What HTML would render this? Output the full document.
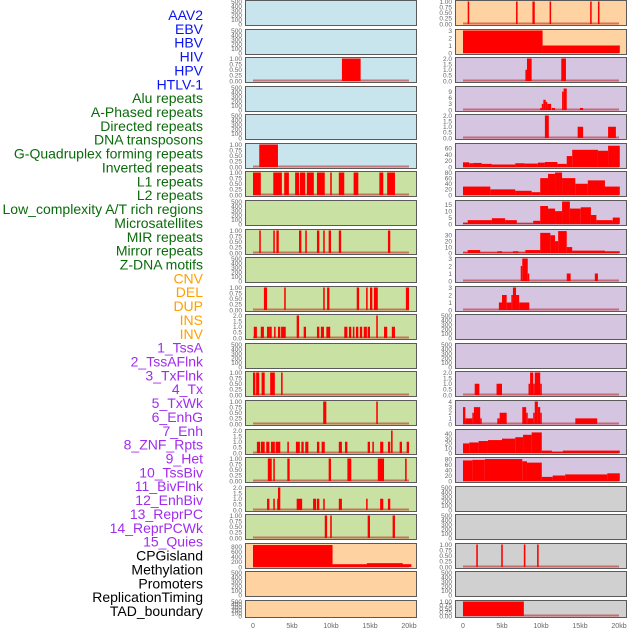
<!DOCTYPE html>
<html><head><meta charset="utf-8"><style>
html,body{margin:0;padding:0;background:#fff;}
svg{display:block;font-family:"Liberation Sans",sans-serif;}
</style></head><body>
<svg id="chart" width="630" height="630" viewBox="0 0 630 630" xmlns="http://www.w3.org/2000/svg"></svg>
<script>
const trackNames = ["AAV2","EBV","HBV","HIV","HPV","HTLV-1","Alu repeats","A-Phased repeats","Directed repeats","DNA transposons","G-Quadruplex forming repeats","Inverted repeats","L1 repeats","L2 repeats","Low_complexity A/T rich regions","Microsatellites","MIR repeats","Mirror repeats","Z-DNA motifs","CNV","DEL","DUP","INS","INV","1_TssA","2_TssAFlnk","3_TxFlnk","4_Tx","5_TxWk","6_EnhG","7_Enh","8_ZNF_Rpts","9_Het","10_TssBiv","11_BivFlnk","12_EnhBiv","13_ReprPC","14_ReprPCWk","15_Quies","CPGisland","Methylation","Promoters","ReplicationTiming","TAD_boundary"];
const trackGroups = ["v","v","v","v","v","v","r","r","r","r","r","r","r","r","r","r","r","r","r","c","c","c","c","c","h","h","h","h","h","h","h","h","h","h","h","h","h","h","h","o","o","o","o","o"];
const xTicks = [0,5,10,15,20];
const xTickLabels = ["0","5kb","10kb","15kb","20kb"];
const ticksEmpty = ["0","100","200","300","400","500"];
const ticksBin = ["0.00","0.25","0.50","0.75","1.00"];
const ticksTwo = ["0.0","0.5","1.0","1.5","2.0"];
const ticksThree = ["0","1","2","3"];
// segments: [startKb, endKb, value]
const segHBV = [[11.4,13.8,1]];
const segHTLV = [[0.8,3.2,1]];
const segAlu = [[0,1.0,1],[2.6,3.7,1],[4.0,4.6,1],[5.4,5.9,1],[6.0,6.7,1],[6.9,7.8,1],[8.2,9.2,1],[9.9,10.1,1],[11.0,11.7,1],[12.9,13.5,1],[16.2,16.7,1],[17.2,18.2,1]];
const segDirected = [[0.8,1.0,1],[2.6,2.8,1],[3.0,3.3,1],[5.9,6.2,1],[6.7,6.9,1],[8.2,8.5,1],[9.0,9.2,1],[9.7,10.0,1],[11.0,11.3,1],[17.3,17.6,1]];
const segGQuad = [[1.4,1.8,1],[4.0,4.2,1],[9.0,9.2,1],[9.5,9.8,1],[13.3,13.6,1],[14.5,14.7,1],[15.0,15.3,1],[15.5,16.0,1],[19.6,20.0,1]];
const segInverted = [[0.1,0.5,1],[1.0,1.4,1],[1.8,2.1,1],[2.1,2.4,1],[2.7,2.9,1],[3.2,3.5,1],[3.6,4.2,1],[5.6,5.9,2],[6.5,6.8,1],[8.2,8.5,1],[8.7,9.1,1],[9.4,9.9,1],[11.7,12.1,1],[12.3,12.6,1],[12.8,13.0,1],[13.2,13.5,1],[13.7,14.0,1],[14.2,14.6,1],[14.7,15.0,1],[15.8,16.0,2],[16.8,17.2,1],[17.8,18.2,1]];
const segL2 = [[0,0.3,1],[0.4,0.8,1],[1.1,1.5,1],[2.2,2.8,1],[3.6,3.8,1]];
const segLowComp = [[9.0,9.4,1],[15.8,16.0,1]];
const segMicro = [[0.5,0.9,1],[1.0,1.5,1],[1.7,2.1,1],[2.3,2.8,1],[2.9,3.5,1],[4.4,4.6,1],[5.5,6.0,1],[6.2,6.5,1],[6.7,7.1,1],[8.2,8.5,1],[8.8,9.2,1],[11.0,11.4,1],[11.8,12.1,1],[14.7,15.0,1],[15.3,15.5,1],[16.3,16.7,1],[17.3,17.6,1],[17.7,17.9,2],[18.8,19.1,1],[19.7,20.0,1]];
const segMIR = [[1.9,2.4,1],[2.6,2.8,1],[4.4,4.7,1],[9.7,10.0,1],[12.1,12.6,1],[16.0,16.8,1],[19.5,19.7,1]];
const segMirror = [[1.8,2.1,1],[2.6,2.8,1],[3.1,3.2,1],[3.2,3.5,2],[5.6,6.3,1],[7.7,8.1,1],[8.2,8.5,1],[9.0,9.2,1],[11.0,11.4,1],[14.5,14.7,1],[16.3,16.7,1],[17.3,17.6,1]];
const segZDNA = [[9.2,9.5,1],[9.9,10.1,1],[14.7,15.0,1],[17.9,18.2,1]];
const segCNV = [[0,10.2,860],[10.2,20.3,110],[14.6,19.2,150]];
const segINS = [[0.6,0.8,1],[6.8,7.0,1],[8.9,9.2,1],[11.1,11.3,1],[16.3,16.5,1],[17.3,17.5,1]];
const segINV = [[0,10.2,3],[10.2,20.1,1]];
const segTssA = [[8.0,8.2,1],[8.2,8.8,2],[12.6,13.2,2]];
const segTssAFlnk = [[9.9,10.1,1],[10.1,10.3,3],[10.3,10.6,5],[10.6,10.8,4],[10.8,11.3,3],[11.4,11.8,1],[12.7,12.9,9],[12.9,13.3,10.5],[15.0,15.4,1]];
const segTxFlnk = [[10.5,11.0,2],[14.7,15.4,1],[18.6,19.6,1]];
const segTx = [[0,0.8,15],[0.8,1.3,12],[1.3,2.4,13],[2.4,3.7,10],[3.7,6.7,8],[6.7,7.9,12],[7.9,9.6,11],[9.6,10.5,14],[10.5,12.1,16],[12.1,13.3,10],[13.3,14.0,35],[14.0,17.3,55],[17.3,18.6,52],[18.6,20.1,68]];
const segTxWk = [[0,3.5,30],[3.5,6.7,20],[6.7,8.8,15],[8.8,9.9,10],[9.9,10.9,60],[10.9,11.8,75],[11.8,12.7,80],[12.7,14.4,60],[14.4,16.0,40],[16.0,18.2,52],[18.2,20.1,30]];
const segEnhG = [[0,0.6,1],[0.6,3.7,3],[3.7,5.4,4.5],[5.4,6.9,3],[6.9,9.0,0.5],[9.0,9.9,2.5],[9.9,10.9,14],[10.9,11.8,12],[11.8,12.7,10],[12.7,13.7,17.5],[13.7,15.1,12],[15.1,16.4,13],[16.4,17.1,7],[17.1,19.2,3],[19.2,20.1,5]];
const segEnh = [[0,0.6,1],[0.6,2.2,5],[2.2,4.4,1],[4.4,5.0,3],[5.0,6.4,1],[6.4,7.1,3],[7.1,8.0,1],[8.0,9.9,5],[9.9,11.2,34],[11.2,11.8,30],[11.8,12.2,20],[12.2,13.3,37],[13.3,14.0,10],[14.0,18.2,4],[18.2,20.1,3]];
const segZNF = [[7.4,7.6,2],[7.6,8.3,3],[8.3,8.5,1],[13.3,13.8,1],[16.9,17.3,1]];
const segHet = [[4.6,5.0,1],[5.0,5.6,2],[5.6,6.2,1],[6.2,6.4,2],[6.4,6.8,3],[6.8,7.2,2],[7.2,8.5,1]];
const segEnhBiv = [[1.5,2.1,1],[4.3,5.0,1],[8.4,8.6,1],[8.6,9.0,2],[9.0,9.2,1],[9.2,9.9,2],[9.9,10.1,1]];
const segReprPC = [[0,0.3,3],[0.3,1.2,1],[1.2,1.4,2],[1.4,2.2,3],[2.2,2.4,1],[4.4,4.7,1],[4.7,5.6,2],[7.6,8.1,3],[8.1,8.3,2],[8.3,9.0,1],[9.0,9.2,2],[9.2,9.6,4],[9.6,9.9,3],[9.9,10.1,2],[14.4,17.2,1]];
const segReprPCWk = [[0,0.8,20],[0.8,2.0,22],[2.0,3.2,25],[3.2,5.0,27],[5.0,6.7,30],[6.7,7.7,33],[7.7,8.8,38],[8.8,10.1,43],[10.1,11.4,5],[11.4,12.8,3],[12.8,20.1,5]];
const segQuies = [[0,1.2,75],[1.2,2.8,77],[2.8,7.6,80],[7.6,8.2,72],[8.2,10.1,67],[10.1,11.5,15],[11.5,13.1,20],[13.1,18.5,24],[18.5,20.1,28]];
const segPromoters = [[1.7,1.9,1],[4.9,5.1,1],[7.8,8.0,1],[9.5,9.7,1]];
const segTAD = [[0,7.8,1]];

const trackSegs = [null,null,segHBV,null,null,segHTLV,segAlu,null,segDirected,null,segGQuad,segInverted,null,segL2,segLowComp,segMicro,segMIR,segMirror,segZDNA,segCNV,null,null,
  segINS,segINV,segTssA,segTssAFlnk,segTxFlnk,segTx,segTxWk,segEnhG,segEnh,segZNF,segHet,null,null,segEnhBiv,segReprPC,segReprPCWk,segQuies,null,null,segPromoters,null,segTAD];
const trackYMax = [500,500,1,500,500,1,1,500,1,500,1,2,500,1,1,2,1,2,1,880,500,500,
  1,3,2,11,2,72,80,17.5,38,3,3,500,500,2,4,47,82,500,500,1,500,1];
const trackTicks = [ticksEmpty,ticksEmpty,ticksBin,ticksEmpty,ticksEmpty,ticksBin,ticksBin,ticksEmpty,ticksBin,ticksEmpty,ticksBin,ticksTwo,ticksEmpty,ticksBin,ticksBin,ticksTwo,ticksBin,ticksTwo,ticksBin,["0","200","400","600","800"],ticksEmpty,ticksEmpty,
  ticksBin,ticksThree,ticksTwo,["0","3","6","9"],ticksTwo,["0","20","40","60"],["0","20","40","60","80"],["0","5","10","15"],["0","10","20","30"],ticksThree,ticksThree,ticksEmpty,ticksEmpty,ticksTwo,["0","1","2","3","4"],["0","10","20","30","40"],["0","20","40","60","80"],ticksEmpty,ticksEmpty,ticksBin,ticksEmpty,ticksBin];

const NS = "http://www.w3.org/2000/svg";
const svg = document.getElementById("chart");
const groupColor = {v:"#0a14f0",r:"#0b6b0b",c:"#ffa000",h:"#a02cf0",o:"#000000"};
const bgLeft = i => i < 6 ? "#c8e4ec" : (i < 19 ? "#c9e1a3" : "#ffd2a1");
const bgRight = j => j < 2 ? "#ffd2a1" : (j < 17 ? "#d5c5e1" : "#d0d0d0");
function mk(tag, attrs){const e=document.createElementNS(NS,tag);for(const k in attrs)e.setAttribute(k,attrs[k]);svg.appendChild(e);return e;}

// labels
trackNames.forEach((n,i)=>{
  const t = mk("text",{x:203,y:15+i*13.86+5,"text-anchor":"end","font-size":"14",fill:groupColor[trackGroups[i]]});
  t.textContent = n;
  
  
});

const PW = 171;
function rowTop(r){return Math.round(r*28.57);}
function rowH(r){return r<21?25:17;}
function xScale(col,kb){return (col===0?253:463)+kb*7.8;}

trackNames.forEach((n,i)=>{
  const col = i<22?0:1, r = i%22;
  const left = col===0?245:455, top = rowTop(r), h = rowH(r);
  const bg = mk("rect",{x:left+0.5,y:top+0.5,width:PW,height:h,fill:col===0?bgLeft(r):bgRight(r),stroke:"#5a5a5a","stroke-width":"1"});
  
  
  const base = top+h-1, yTop = top+1.5, ymax = trackYMax[i];
  const yScale = v => base - (v/ymax)*(base-yTop);
  const ticks = trackTicks[i];
  ticks.forEach(tl=>{
    const v = parseFloat(tl);
    const tt = mk("text",{x:left-3,y:yScale(v)+2.3,"text-anchor":"end","font-size":"6.5",fill:"#666"});
    tt.textContent = tl;
    
    
  });
  const segs = trackSegs[i];
  if(segs){
    const bl = mk("line",{x1:xScale(col,0),x2:xScale(col,20),y1:base-0.5,y2:base-0.5,stroke:"rgba(190,30,30,0.55)","stroke-width":"2"});
    
    
    segs.forEach(s=>{
      const x1 = xScale(col,s[0]), x2 = xScale(col,s[1]);
      const y = yScale(s[2]);
      const b = mk("rect",{x:x1,y:y,width:Math.max(1.5,x2-x1),height:base-y,fill:"#ff0000"});
      
      
    });
  }
});

// x axes
[0,1].forEach(col=>{
  xTicks.forEach((k,j)=>{
    const t = mk("text",{x:xScale(col,k),y:628,"text-anchor":"middle","font-size":"7",fill:"#666"});
    t.textContent = xTickLabels[j];
    
    
  });
});
</script>
</body></html>
